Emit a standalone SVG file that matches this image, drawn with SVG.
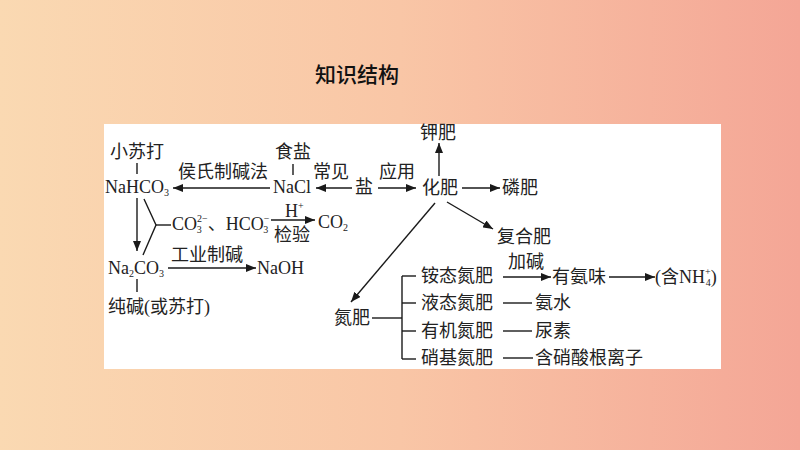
<svg xmlns="http://www.w3.org/2000/svg" width="800" height="450" viewBox="0 0 800 450">
<defs>
<linearGradient id="bg" x1="0" y1="0" x2="1" y2="0">
<stop offset="0" stop-color="#fad9b2"/>
<stop offset="0.5" stop-color="#f9c6a6"/>
<stop offset="1" stop-color="#f4a696"/>
</linearGradient>
<marker id="ah" markerUnits="userSpaceOnUse" markerWidth="12" markerHeight="8" refX="10" refY="4" orient="auto">
<path d="M0,0 L10,4 L0,8 Z" fill="#1a1a1a"/>
</marker>
<style>
.t{font-family:"Liberation Serif","Noto Sans CJK SC",serif;font-size:18px;fill:#222;dominant-baseline:central}
.s{font-size:10px}
.m{text-anchor:middle}
.ln{stroke:#1a1a1a;stroke-width:1.4;fill:none}
.ar{stroke:#1a1a1a;stroke-width:1.4;fill:none;marker-end:url(#ah)}
.title{font-family:"Noto Sans CJK SC",sans-serif;font-size:21px;fill:#111;text-anchor:middle;dominant-baseline:central;font-weight:500}
</style>
</defs>
<rect width="800" height="450" fill="url(#bg)"/>
<text class="title" x="357" y="73">知识结构</text>
<rect x="104" y="124" width="617" height="245" fill="#fff"/>

<g id="connectors">
<line class="ln" x1="137" y1="163" x2="137" y2="174"/>
<line class="ar" x1="270" y1="188" x2="173" y2="188"/>
<line class="ln" x1="293" y1="164" x2="293" y2="175"/>
<line class="ar" x1="352" y1="188" x2="316" y2="188"/>
<line class="ar" x1="378" y1="188" x2="416" y2="188"/>
<line class="ar" x1="439" y1="176" x2="439" y2="143"/>
<line class="ar" x1="462" y1="188" x2="500" y2="188"/>
<line class="ar" x1="447" y1="202" x2="493" y2="229"/>
<line class="ar" x1="435" y1="203" x2="351" y2="302"/>
<line class="ln" x1="372" y1="318" x2="402" y2="318"/>
<line class="ln" x1="402" y1="276" x2="402" y2="359"/>
<line class="ln" x1="402" y1="276" x2="416" y2="276"/>
<line class="ln" x1="402" y1="303" x2="416" y2="303"/>
<line class="ln" x1="402" y1="331" x2="416" y2="331"/>
<line class="ln" x1="402" y1="359" x2="416" y2="359"/>
<line class="ar" x1="503" y1="277" x2="551" y2="277"/>
<line class="ar" x1="609" y1="277" x2="655" y2="277"/>
<line class="ln" x1="503" y1="303" x2="532" y2="303"/>
<line class="ln" x1="503" y1="331" x2="532" y2="331"/>
<line class="ln" x1="503" y1="358" x2="533" y2="358"/>
<line class="ar" x1="137" y1="198" x2="137" y2="251"/>
<polyline class="ln" points="144,199 156,225 143,255"/>
<line class="ln" x1="156" y1="225" x2="171" y2="225"/>
<line class="ar" x1="271" y1="220" x2="315" y2="220"/>
<line class="ln" x1="137" y1="279" x2="137" y2="292"/>
<line class="ar" x1="168" y1="268" x2="256" y2="268"/>
</g>

<g id="n-xiaosuda"><text class="t m" x="137" y="152">小苏打</text></g>
<g id="n-nahco3"><text class="t" x="105" y="187">NaHCO<tspan class="s" dy="5">3</tspan></text></g>
<g id="l-houshi"><text class="t m" x="223" y="172">侯氏制碱法</text></g>
<g id="n-shiyan"><text class="t m" x="293" y="152">食盐</text></g>
<g id="n-nacl"><text class="t" x="273" y="187">NaCl</text></g>
<g id="l-changjian"><text class="t m" x="331" y="172">常见</text></g>
<g id="n-yan"><text class="t m" x="364" y="187">盐</text></g>
<g id="l-yingyong"><text class="t m" x="397" y="172">应用</text></g>
<g id="n-huafei"><text class="t m" x="440" y="188">化肥</text></g>
<g id="n-jiafei"><text class="t m" x="438" y="133">钾肥</text></g>
<g id="n-linfei"><text class="t" x="502" y="188">磷肥</text></g>
<g id="n-fuhefei"><text class="t" x="497" y="237">复合肥</text></g>
<g id="n-danfei"><text class="t" x="334" y="318">氮肥</text></g>
<g id="n-antai"><text class="t" x="421" y="276">铵态氮肥</text></g>
<g id="n-yetai"><text class="t" x="421" y="303">液态氮肥</text></g>
<g id="n-youji"><text class="t" x="421" y="331">有机氮肥</text></g>
<g id="n-xiaoji"><text class="t" x="421" y="358">硝基氮肥</text></g>
<g id="l-jiajian"><text class="t m" x="526" y="262">加碱</text></g>
<g id="n-youanwei"><text class="t" x="552" y="277">有氨味</text></g>
<g id="n-nh4"><text class="t" x="655" y="277">(含NH<tspan class="s" dy="-6">+</tspan><tspan class="s" dx="-5" dy="11">4</tspan><tspan dy="-5">)</tspan></text></g>
<g id="n-anshui"><text class="t" x="535" y="303">氨水</text></g>
<g id="n-niaosu"><text class="t" x="535" y="331">尿素</text></g>
<g id="n-xiaosuan"><text class="t" x="535" y="358">含硝酸根离子</text></g>
<g id="n-ions"><text class="t" x="172" y="224">CO<tspan class="s" dy="-6">2−</tspan><tspan class="s" dx="-11" dy="11">3</tspan><tspan dx="6" dy="-5">、HCO</tspan><tspan class="s" dy="-6">−</tspan><tspan class="s" dx="-6" dy="11">3</tspan></text></g>
<g id="l-hplus"><text class="t" x="285" y="211">H<tspan class="s" dy="-6">+</tspan></text></g>
<g id="l-jianyan"><text class="t m" x="292" y="235">检验</text></g>
<g id="n-co2"><text class="t" x="318" y="222">CO<tspan class="s" dy="5">2</tspan></text></g>
<g id="n-na2co3"><text class="t" x="108" y="268">Na<tspan class="s" dy="5">2</tspan><tspan dy="-5">CO</tspan><tspan class="s" dy="5">3</tspan></text></g>
<g id="l-gongye"><text class="t m" x="207" y="255">工业制碱</text></g>
<g id="n-naoh"><text class="t" x="257" y="268">NaOH</text></g>
<g id="n-chunjian"><text class="t" x="108" y="307">纯碱(或苏打)</text></g>
</svg>
